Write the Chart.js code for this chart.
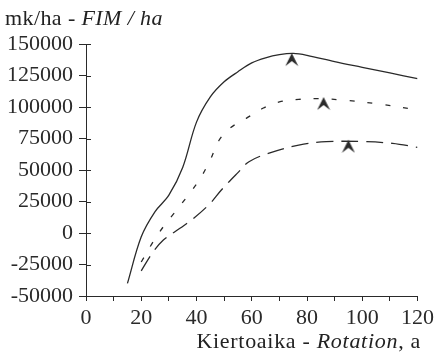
<!DOCTYPE html>
<html>
<head>
<meta charset="utf-8">
<script src="https://cdn.jsdelivr.net/npm/chart.js@4.4.0/dist/chart.umd.min.js"></script>
<style>
    html, body { margin: 0; padding: 0; background: #fff; }
    #wrap { position: relative; width: 438px; height: 361px; }
    .lbl { position: absolute; font-family: 'Liberation Serif', serif; font-size: 22px; color: #222; white-space: nowrap; line-height: 1; }
    #ytitle { left: 5px; top: 7px; letter-spacing: 0.4px; }
    #xtitle { right: 17px; top: 330px; letter-spacing: 0.7px; }
</style>
</head>
<body>
<div id="wrap">
    <canvas id="rotationChart" width="438" height="361"></canvas>
    <div class="lbl" id="ytitle">mk/ha - <i>FIM / ha</i></div>
    <div class="lbl" id="xtitle">Kiertoaika - <i>Rotation</i>, a</div>
</div>
<script>
// rotation ages (a) and net values (mk/ha) for the three curves
const solidAges = [15, 20, 25, 30, 35, 40, 45, 50, 55, 60, 65, 70, 75, 80, 90, 100, 110, 120];
const solidValues = [-40000, -3000, 17000, 30000, 52000, 88000, 108000, 120000, 128000, 135000, 139000, 141500, 142500, 141000, 136000, 131500, 127000, 122500];

const dottedAges = [20, 24, 28, 32, 37, 41, 45, 48, 52, 58, 64, 70, 77, 84, 94, 106, 120];
const dottedValues = [-23000, -8000, 5000, 16000, 30000, 42000, 58000, 73000, 83000, 91000, 99000, 104000, 106000, 106700, 105300, 102400, 97600];

const dashedAges = [20, 24, 28, 34, 39, 45, 49, 55, 59, 66, 77, 87, 101, 111, 120];
const dashedValues = [-30000, -16000, -5600, 3700, 11700, 23600, 34100, 47900, 56600, 63200, 69800, 72500, 72500, 71100, 68000];

// optimum rotation markers (tip of arrowhead)
const optimumAges = [74.5, 86, 95];
const optimumValues = [142800, 107900, 74000];

const xTicks = [0, 20, 40, 60, 80, 100, 120];
const ink = '#2a2a2a';

const toPoints = (xs, ys) => xs.map((x, i) => ({ x: x, y: ys[i] }));

// arrowhead image, tip sits at the image centre
function arrowHead() {
    const c = document.createElement('canvas');
    c.width = 14; c.height = 30;
    const g = c.getContext('2d');
    g.fillStyle = ink;
    g.beginPath();
    g.moveTo(7, 15);
    g.lineTo(13.5, 28);
    g.lineTo(7, 23);
    g.lineTo(0.5, 28);
    g.closePath();
    g.fill();
    return c;
}

// short tick marks reaching into the plot area on the y axis
const innerTicks = {
    id: 'innerTicks',
    afterDraw(chart) {
        const ctx = chart.ctx;
        const y = chart.scales.y;
        ctx.save();
        ctx.strokeStyle = ink;
        ctx.lineWidth = 1;
        y.ticks.forEach(t => {
            const py = Math.round(y.getPixelForValue(t.value)) + 0.5;
            ctx.beginPath();
            ctx.moveTo(y.right, py);
            ctx.lineTo(y.right + 5, py);
            ctx.stroke();
        });
        ctx.restore();
    }
};

const font = { family: "'Liberation Serif', serif", size: 22 };

new Chart(document.getElementById('rotationChart'), {
    type: 'line',
    data: {
        datasets: [
            { data: toPoints(solidAges, solidValues), borderColor: ink, borderWidth: 1.3, pointRadius: 0, tension: 0.35 },
            { data: toPoints(dottedAges, dottedValues), borderColor: ink, borderWidth: 1.3, borderDash: [5, 13], pointRadius: 0, tension: 0.35 },
            { data: toPoints(dashedAges, dashedValues), borderColor: ink, borderWidth: 1.3, borderDash: [17, 8], pointRadius: 0, tension: 0.35 },
            { data: toPoints(optimumAges, optimumValues), showLine: false, pointStyle: arrowHead(), pointRadius: 7 }
        ]
    },
    options: {
        responsive: false,
        animation: false,
        layout: { padding: { top: 44, right: 18, left: 0, bottom: 0 } },
        plugins: { legend: { display: false }, tooltip: { enabled: false } },
        scales: {
            x: {
                type: 'linear',
                min: 0, max: 120,
                afterFit(s) { s.height = 65; },
                border: { display: true, color: ink, width: 1 },
                grid: { drawOnChartArea: false, color: ink, tickLength: 5 },
                ticks: {
                    stepSize: 10,
                    autoSkip: false,
                    maxRotation: 0,
                    padding: 4,
                    color: ink,
                    font: font,
                    callback: v => xTicks.includes(v) ? String(v) : ''
                }
            },
            y: {
                min: -50000, max: 150000,
                afterFit(s) { s.width = 86; },
                border: { display: true, color: ink, width: 1 },
                grid: { drawOnChartArea: false, color: ink, tickLength: 7 },
                ticks: { stepSize: 25000, padding: 6, color: ink, font: font, callback: v => String(v) }
            }
        }
    },
    plugins: [innerTicks]
});
</script>
</body>
</html>
